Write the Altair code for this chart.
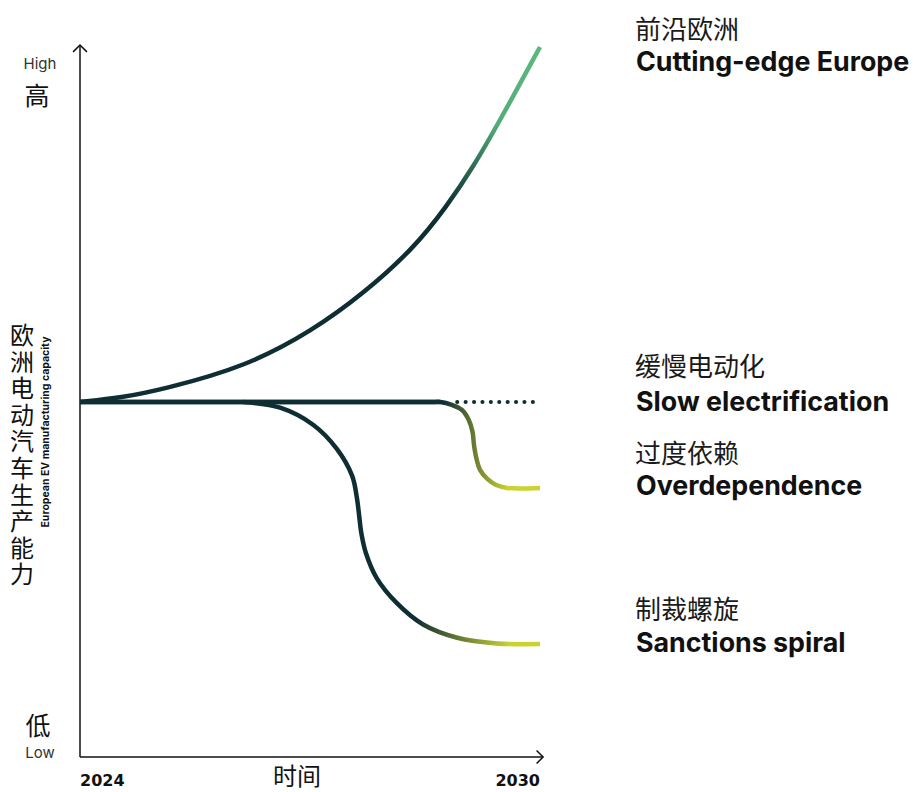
import altair as alt
import pandas as pd

# ---------------- data ----------------
cut_year = [2024.0, 2024.54, 2025.09, 2026.17, 2027.04, 2027.70, 2028.35, 2028.78, 2029.13, 2029.48, 2030.0]
cut_cap = [50.0, 50.6, 51.8, 55.0, 60.1, 65.3, 71.6, 77.5, 83.1, 89.7, 100.0]

slow_year = [2024.0, 2028.70]
slow_cap = [50.0, 50.0]
slow_dot_year = [2028.92, 2030.0]
slow_dot_cap = [50.0, 50.0]

over_year = [2024.0, 2028.57, 2028.70, 2028.85, 2028.98, 2029.07, 2029.12, 2029.14,
             2029.17, 2029.22, 2029.31, 2029.43, 2029.57, 2030.0]
over_cap = [50.0, 50.0, 50.0, 49.6, 48.9, 47.5, 45.8, 43.9, 42.1, 40.4, 39.2, 38.3, 37.9, 37.9]

sanc_year = [2026.13, 2026.61, 2027.04, 2027.35, 2027.55, 2027.61, 2027.64, 2027.67,
             2027.73, 2027.87, 2028.13, 2028.47, 2028.92, 2029.44, 2030.0]
sanc_cap = [50.0, 49.2, 46.8, 43.4, 39.6, 36.6, 34.1, 31.5, 28.7, 25.2, 21.7, 18.7, 16.8, 16.0, 15.9]

x_ticks = ["2024", "2030"]
x_tick_values = [2024, 2030]
x_title = "时间"
y_title_cn = "欧洲电动汽车生产能力"
y_title_en = "European EV manufacturing capacity"
y_high = ["High", "高"]
y_low = ["低", "Low"]

labels_cn = ["前沿欧洲", "缓慢电动化", "过度依赖", "制裁螺旋"]
labels_en = ["Cutting-edge Europe", "Slow electrification", "Overdependence", "Sanctions spiral"]

# ---------------- styling ----------------
DARK = "#0f2e33"
GREEN = "#5cb97e"
YELLOW = "#cbd232"
FONT = "Inter, Noto Sans CJK SC, sans-serif"
CJK = "Noto Sans CJK SC, sans-serif"
INK = "#111111"

X = alt.Scale(domain=[2024, 2030], range=[80, 540])
Y = alt.Scale(domain=[0, 100], range=[757, 47])


def xenc(field="year"):
    return alt.X(f"{field}:Q", scale=X, axis=None)


def yenc(field="cap"):
    return alt.Y(f"{field}:Q", scale=Y, axis=None)


def grad(stops, x1=0, x2=1, y1=0, y2=0):
    return {
        "gradient": "linear",
        "x1": x1, "x2": x2, "y1": y1, "y2": y2,
        "stops": [{"offset": o, "color": c} for o, c in stops],
    }


def curve(years, caps, color, width=4.5, **kw):
    df = pd.DataFrame({"year": years, "cap": caps})
    return alt.Chart(df).mark_line(
        strokeWidth=width, color=color, **kw
    ).encode(x=xenc(), y=yenc())


# axes lines
axis_df = pd.DataFrame({"year": [2024.0], "year2": [2030.04], "cap": [0.0], "cap2": [100.28]})
y_axis = alt.Chart(axis_df).mark_rule(color=INK, strokeWidth=1.5).encode(
    x=xenc(), y=yenc(), y2="cap2:Q")
x_axis = alt.Chart(axis_df).mark_rule(color=INK, strokeWidth=1.5).encode(
    x=xenc(), x2="year2:Q", y=yenc())
arrow_up = alt.Chart(axis_df).mark_point(
    shape="M -1 1 L 0 0 L 1 1", filled=False, size=190, strokeWidth=1.5, color=INK, opacity=1
).encode(x=xenc(), y=yenc("cap2"))
arrow_right = alt.Chart(axis_df).mark_point(
    shape="M -1 -1 L 0 0 L -1 1", filled=False, size=170, strokeWidth=1.5, color=INK, opacity=1
).encode(x=xenc("year2"), y=yenc())

layers = [y_axis, x_axis, arrow_up, arrow_right]

# curves
layers.append(curve(slow_year, slow_cap, DARK, interpolate="linear"))
layers.append(curve(slow_dot_year, slow_dot_cap, DARK, width=4, interpolate="linear",
                    strokeDash=[0.1, 8.3], strokeCap="round"))
layers.append(curve(sanc_year, sanc_cap,
                    grad([(0, DARK), (0.58, DARK), (0.9, YELLOW), (1, YELLOW)]),
                    interpolate="catmull-rom"))
layers.append(curve(over_year, over_cap,
                    grad([(0, DARK), (0.79, DARK), (0.93, YELLOW), (1, YELLOW)]),
                    interpolate="catmull-rom"))
layers.append(curve(cut_year, cut_cap,
                    grad([(0, DARK), (0.55, DARK), (0.78, "#52ad78"), (1, GREEN)],
                         x1=0, x2=0, y1=1, y2=0),
                    interpolate="basis"))

# right-side labels anchored on series end values
ends = [cut_cap[-1], slow_cap[-1], over_cap[-1], sanc_cap[-1]]
offsets = [(-16, 16), (-34, 1), (-33, -1), (-33, 0)]
for cn, en, v, (dcn, den) in zip(labels_cn, labels_en, ends, offsets):
    d = pd.DataFrame({"cap": [v], "cn": [cn], "en": [en]})
    base = alt.Chart(d)
    layers.append(base.mark_text(font=CJK, fontSize=26, color="#1a1a1a", align="left",
                                 baseline="middle", dy=dcn).encode(
        x=alt.value(635), y=yenc(), text="cn:N"))
    layers.append(base.mark_text(font=FONT, fontSize=26.8, fontWeight="bold", color=INK,
                                 align="left", baseline="middle", dy=den).encode(
        x=alt.value(636), y=yenc(), text="en:N"))

# x tick labels
tick_df = pd.DataFrame({"year": x_tick_values, "label": x_ticks, "cap": [0.0, 0.0]})
layers.append(alt.Chart(tick_df.iloc[[0]]).mark_text(
    font="DejaVu Sans", fontSize=16, fontWeight="bold", color=INK, align="left",
    baseline="middle", dy=24).encode(x=xenc(), y=yenc(), text="label:N"))
layers.append(alt.Chart(tick_df.iloc[[1]]).mark_text(
    font="DejaVu Sans", fontSize=16, fontWeight="bold", color=INK, align="right",
    baseline="middle", dy=24).encode(x=xenc(), y=yenc(), text="label:N"))

one = alt.Chart(pd.DataFrame({"a": [0]}))
layers.append(one.mark_text(font=CJK, fontSize=24, color=INK, align="center",
                            baseline="middle").encode(
    x=alt.value(297), y=alt.value(778), text=alt.value(x_title)))

# y-axis annotations
layers.append(one.mark_text(font=FONT, fontSize=15, color="#333", align="center",
                            baseline="middle").encode(
    x=alt.value(40), y=alt.value(64), text=alt.value(y_high[0])))
layers.append(one.mark_text(font=CJK, fontSize=25, color=INK, align="center",
                            baseline="middle").encode(
    x=alt.value(37), y=alt.value(97), text=alt.value(y_high[1])))
layers.append(one.mark_text(font=CJK, fontSize=25, color=INK, align="center",
                            baseline="middle").encode(
    x=alt.value(38), y=alt.value(727), text=alt.value(y_low[0])))
layers.append(one.mark_text(font=FONT, fontSize=15, color="#333", align="center",
                            baseline="middle").encode(
    x=alt.value(40), y=alt.value(753), text=alt.value(y_low[1])))
layers.append(one.mark_text(font=CJK, fontSize=24, color=INK, align="center",
                            baseline="top", lineHeight=26.6).encode(
    x=alt.value(22), y=alt.value(325), text=alt.value(list(y_title_cn))))
layers.append(one.mark_text(font=FONT, fontSize=10.5, fontWeight="bold", color=INK,
                            align="center", baseline="middle", angle=270).encode(
    x=alt.value(46), y=alt.value(432), text=alt.value(y_title_en)))

chart = alt.layer(*layers).properties(
    width=917, height=792, autosize=alt.AutoSizeParams(type="none"), padding=0
).configure_view(stroke=None)

chart.save("out.html", embed_options={"renderer": "svg", "actions": False})
